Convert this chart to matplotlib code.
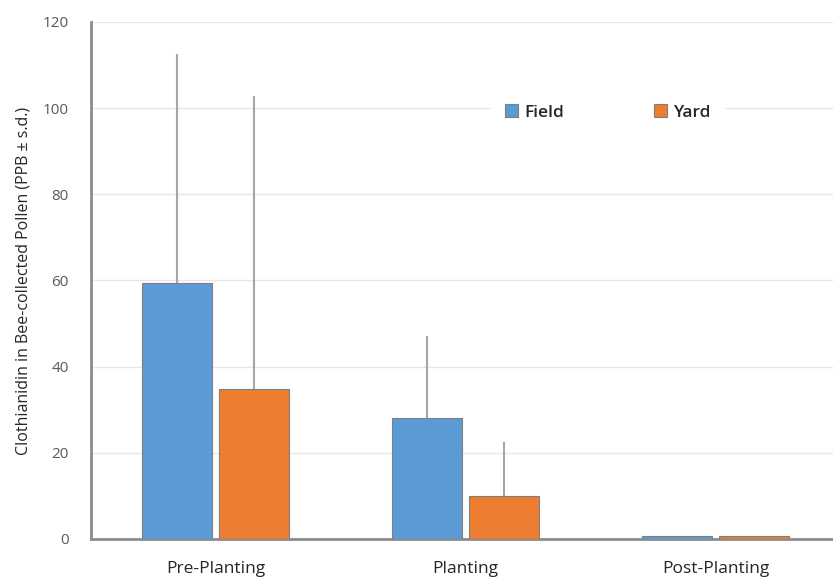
import numpy as np
import matplotlib.pyplot as plt

categories = ["Pre-Planting", "Planting", "Post-Planting"]
field = [59.5, 28.0, 0.6]
yard = [34.8, 10.0, 0.6]
field_sd = [53.0, 19.0, 0.0]
yard_sd = [68.0, 12.5, 0.0]

plt.rcParams['font.family'] = ['Open Sans', 'DejaVu Sans']

fig = plt.figure(figsize=(8.33, 5.8), dpi=100)
ax = fig.add_axes([0.109, 0.0707, 0.9, 0.8915])

x = np.arange(len(categories))
w = 0.28
off = 0.154
err_kw = dict(ecolor="#a6a6a6", elinewidth=1.5, capsize=0)
ax.bar(x - off, field, w, color="#5b9bd5", edgecolor="#7f7f7f", linewidth=0.8,
       yerr=[np.zeros(3), field_sd], error_kw=err_kw, label="Field", zorder=3)
ax.bar(x + off, yard, w, color="#ed7d31", edgecolor="#7f7f7f", linewidth=0.8,
       yerr=[np.zeros(3), yard_sd], error_kw=err_kw, label="Yard", zorder=3)

ax.set_xlim(-0.5, 2.5)
ax.set_ylim(0, 120)
ax.set_yticks(range(0, 121, 20))
ax.grid(axis="y", color="#e6e6e6", linewidth=1, zorder=0)
ax.set_axisbelow(True)
for s in ["top", "right"]:
    ax.spines[s].set_visible(False)
ax.spines["left"].set_color("#8c8c8c")
ax.spines["left"].set_linewidth(2)
ax.spines["bottom"].set_color("#8c8c8c")
ax.spines["bottom"].set_linewidth(2)
ax.tick_params(axis="y", length=0, labelsize=11, labelcolor="#595959", pad=16)
ax.tick_params(axis="x", length=0, labelsize=12.5, labelcolor="#262626", pad=16)
ax.set_xticks(x)
ax.set_xticklabels(categories)
ax.set_ylabel("Clothianidin in Bee-collected Pollen (PPB ± s.d.)", fontsize=11.5,
              color="#262626", labelpad=8)

leg = ax.legend(loc="center", bbox_to_anchor=(0.73, 0.806), bbox_transform=fig.transFigure,
                ncol=2, frameon=True, edgecolor="none", fancybox=False,
                prop={"size": 12.5, "weight": "semibold"},
                handlelength=0.75, handleheight=0.75, handletextpad=0.35, columnspacing=5.2,
                borderpad=0.8, borderaxespad=0)
leg.get_frame().set_alpha(1)
for t in leg.get_texts():
    t.set_color("#262626")

fig.savefig("out.png", dpi=100)
